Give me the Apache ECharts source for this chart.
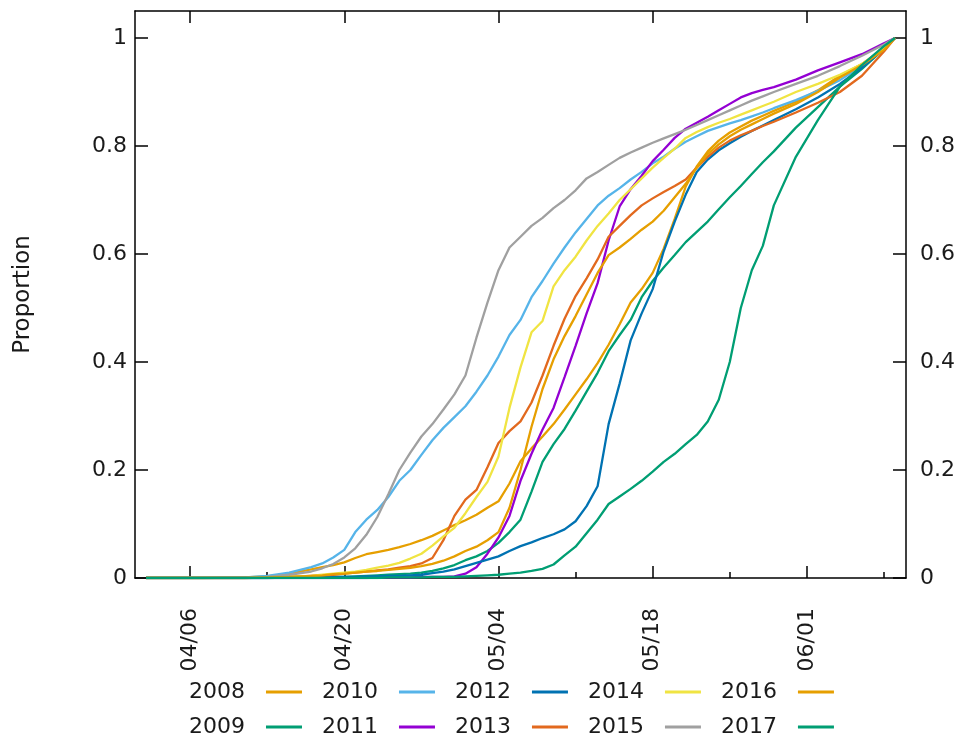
<!DOCTYPE html>
<html><head><meta charset="utf-8">
<script src="https://cdn.jsdelivr.net/npm/echarts@6/dist/echarts.min.js"></script>
<style>html,body{margin:0;padding:0;background:#fff}#c{width:971px;height:742px}</style>
</head><body><div id="c"></div><script>
// x: days since 04/01
const days = [1,6,10,12,14,16,17,18,19,20,21,22,23,24,25,26,27,28,29,30,31,32,33,34,35,36,37,38,39,40,41,42,43,44,45,46,47,48,49,50,51,52,53,54,55,56,57,58,60,62,64,66,68,69];
const tickDays = [5,19,33,47,61];
const tickLabels = ['04/06','04/20','05/04','05/18','06/01'];
const minorTickDays = [12,26,40,54,68];
const yTicks = [0,0.2,0.4,0.6,0.8,1];
const years = ['2008','2009','2010','2011','2012','2013','2014','2015','2016','2017'];
const colors = ['#E69F00','#009E73','#56B4E9','#9400D3','#0072B2','#E2691E','#F0E442','#A0A0A0','#E69F00','#009E73'];

const v2008 = [0,0,0.001,0.003,0.008,0.016,0.02,0.024,0.029,0.037,0.044,0.048,0.052,0.057,0.063,0.07,0.078,0.088,0.098,0.107,0.117,0.13,0.142,0.175,0.216,0.24,0.262,0.285,0.312,0.34,0.368,0.398,0.432,0.47,0.51,0.535,0.565,0.61,0.665,0.725,0.762,0.79,0.81,0.825,0.836,0.847,0.856,0.865,0.882,0.903,0.93,0.952,0.98,1];
const v2009 = [0,0,0,0,0.001,0.001,0.001,0.002,0.002,0.003,0.004,0.005,0.006,0.007,0.008,0.01,0.013,0.018,0.024,0.033,0.04,0.05,0.065,0.085,0.108,0.16,0.215,0.248,0.276,0.31,0.345,0.38,0.42,0.45,0.478,0.52,0.55,0.575,0.598,0.622,0.641,0.66,0.683,0.705,0.726,0.748,0.77,0.79,0.834,0.872,0.91,0.943,0.98,1];
const v2010 = [0,0,0.001,0.004,0.01,0.02,0.027,0.038,0.052,0.085,0.108,0.126,0.15,0.18,0.2,0.228,0.255,0.278,0.298,0.318,0.345,0.375,0.41,0.45,0.478,0.52,0.55,0.582,0.612,0.64,0.665,0.69,0.708,0.722,0.738,0.752,0.768,0.78,0.795,0.808,0.818,0.828,0.835,0.842,0.848,0.855,0.862,0.87,0.885,0.902,0.922,0.948,0.982,1];
const v2011 = [0,0,0,0,0,0,0,0,0,0,0,0.001,0.001,0.001,0.001,0.002,0.002,0.002,0.003,0.008,0.02,0.045,0.075,0.115,0.18,0.23,0.275,0.315,0.372,0.43,0.49,0.546,0.625,0.688,0.72,0.745,0.772,0.793,0.815,0.832,0.843,0.854,0.866,0.878,0.89,0.898,0.904,0.909,0.923,0.94,0.955,0.97,0.99,1];
const v2012 = [0,0,0,0,0.001,0.001,0.001,0.002,0.002,0.002,0.003,0.003,0.004,0.004,0.005,0.006,0.009,0.012,0.016,0.022,0.028,0.034,0.04,0.05,0.059,0.066,0.074,0.081,0.09,0.105,0.133,0.17,0.285,0.36,0.44,0.49,0.535,0.605,0.66,0.71,0.752,0.775,0.792,0.805,0.817,0.828,0.838,0.848,0.868,0.89,0.915,0.945,0.98,1];
const v2013 = [0,0,0,0.001,0.002,0.004,0.005,0.006,0.008,0.01,0.012,0.014,0.016,0.019,0.022,0.027,0.037,0.07,0.115,0.145,0.163,0.205,0.25,0.272,0.29,0.325,0.375,0.43,0.48,0.522,0.555,0.59,0.632,0.652,0.672,0.69,0.703,0.715,0.726,0.738,0.76,0.78,0.797,0.81,0.82,0.828,0.837,0.845,0.862,0.88,0.9,0.93,0.975,1];
const v2014 = [0,0,0,0.001,0.002,0.004,0.006,0.008,0.01,0.012,0.015,0.019,0.023,0.028,0.036,0.045,0.06,0.077,0.093,0.12,0.15,0.178,0.225,0.315,0.39,0.455,0.476,0.54,0.57,0.595,0.625,0.652,0.675,0.7,0.72,0.74,0.76,0.778,0.795,0.815,0.826,0.835,0.843,0.85,0.858,0.866,0.874,0.882,0.9,0.915,0.932,0.952,0.98,1];
const v2015 = [0,0,0,0.002,0.006,0.012,0.018,0.026,0.038,0.055,0.08,0.113,0.155,0.2,0.232,0.262,0.285,0.312,0.34,0.375,0.445,0.51,0.57,0.612,0.632,0.652,0.667,0.685,0.7,0.718,0.74,0.752,0.765,0.778,0.788,0.797,0.806,0.814,0.822,0.83,0.839,0.848,0.857,0.866,0.875,0.884,0.892,0.9,0.915,0.93,0.948,0.967,0.988,1];
const v2016 = [0,0,0,0.001,0.002,0.004,0.005,0.007,0.008,0.01,0.012,0.013,0.015,0.017,0.019,0.022,0.026,0.032,0.04,0.05,0.058,0.07,0.085,0.13,0.2,0.28,0.35,0.405,0.448,0.485,0.525,0.565,0.598,0.612,0.628,0.645,0.66,0.68,0.705,0.73,0.76,0.785,0.803,0.818,0.83,0.84,0.85,0.86,0.878,0.9,0.927,0.95,0.978,1];
const v2017 = [0,0,0,0,0,0,0,0,0,0,0,0,0.001,0.001,0.001,0.001,0.002,0.002,0.002,0.003,0.004,0.005,0.006,0.008,0.01,0.013,0.017,0.025,0.042,0.058,0.083,0.108,0.137,0.151,0.165,0.18,0.197,0.215,0.23,0.248,0.265,0.29,0.33,0.40,0.50,0.57,0.615,0.69,0.78,0.848,0.91,0.95,0.985,1];

const values = [v2008,v2009,v2010,v2011,v2012,v2013,v2014,v2015,v2016,v2017];
const FONT = 'DejaVu Sans';
const FS = 22;
const TXT = '#1a1a1a';

const series = years.map((y, k) => ({
  name: y, type: 'line', xAxisIndex: 0, yAxisIndex: 0,
  symbol: 'none', showSymbol: false, smooth: false,
  color: colors[k],
  lineStyle: {width: 2.3, color: colors[k]},
  data: days.map((d, i) => [d, values[k][i]])
}));

const baseX = {type:'value', min:0, max:70, splitLine:{show:false}};
const lineSt = {color:'#000', width:1.5};
const chart = echarts.init(document.getElementById('c'), null, {renderer:'canvas'});
const legendCommon = {
  left: 189, align: 'right', orient: 'horizontal', padding: 0,
  icon: 'rect', itemWidth: 36, itemHeight: 3, itemGap: 20, selectedMode: false,
  textStyle: {fontFamily: FONT, fontSize: FS, color: TXT, padding: [0, 16, 0, 0]}
};
chart.setOption({
  animation: false,
  backgroundColor: '#fff',
  grid: {left:135, right:65, top:11, bottom:164, containLabel:false},
  xAxis: [
    Object.assign({}, baseX, {position:'bottom',
      axisLine:{show:true, onZero:false, lineStyle:lineSt},
      axisTick:{show:true, inside:true, length:12, lineStyle:lineSt, customValues: tickDays},
      axisLabel:{show:true, rotate:90, margin:30, fontFamily:FONT, fontSize:FS, color:TXT,
        customValues: tickDays,
        formatter: v => { const i = tickDays.indexOf(Math.round(v)); return i >= 0 ? tickLabels[i] : ''; }}
    }),
    Object.assign({}, baseX, {position:'bottom',
      axisLine:{show:false},
      axisTick:{show:true, inside:true, length:6, lineStyle:lineSt, customValues: minorTickDays},
      axisLabel:{show:false}
    }),
    Object.assign({}, baseX, {position:'top',
      axisLine:{show:true, onZero:false, lineStyle:lineSt},
      axisTick:{show:true, inside:true, length:12, lineStyle:lineSt, customValues: tickDays},
      axisLabel:{show:false}
    })
  ],
  yAxis: [
    {type:'value', min:0, max:1.05, position:'left', splitLine:{show:false},
      name:'Proportion', nameLocation:'middle', nameGap:100, nameRotate:90,
      nameTextStyle:{fontFamily:FONT, fontSize:23, color:TXT},
      axisLine:{show:true, onZero:false, lineStyle:lineSt},
      axisTick:{show:true, inside:true, length:13, lineStyle:lineSt, customValues: yTicks},
      axisLabel:{show:true, margin:8, fontFamily:FONT, fontSize:FS, color:TXT, customValues: yTicks,
        formatter: v => String(Math.round(v*10)/10)}
    },
    {type:'value', min:0, max:1.05, position:'right', splitLine:{show:false},
      axisLine:{show:true, onZero:false, lineStyle:lineSt},
      axisTick:{show:true, inside:true, length:13, lineStyle:lineSt, customValues: yTicks},
      axisLabel:{show:true, margin:14, fontFamily:FONT, fontSize:FS, color:TXT, customValues: yTicks,
        formatter: v => String(Math.round(v*10)/10)}
    }
  ],
  legend: [
    Object.assign({}, legendCommon, {top: 681, data: ['2008','2010','2012','2014','2016']}),
    Object.assign({}, legendCommon, {top: 716, data: ['2009','2011','2013','2015','2017']})
  ],
  series: series
});
</script></body></html>
